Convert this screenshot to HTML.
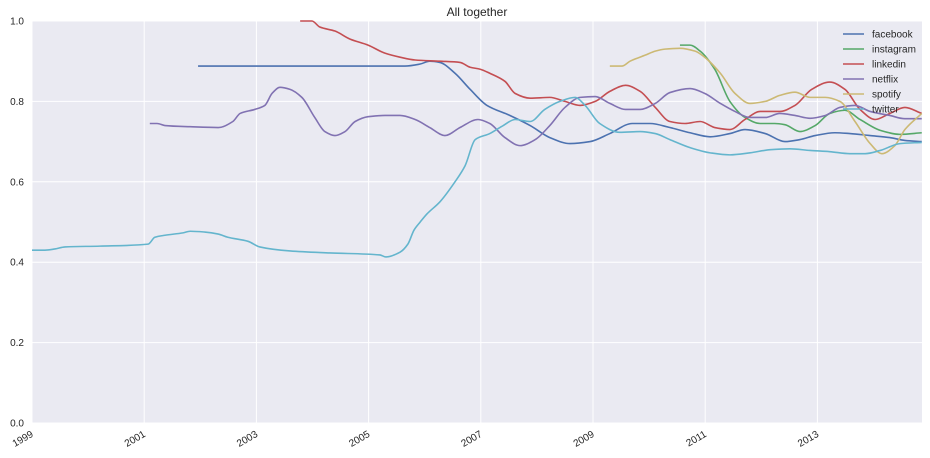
<!DOCTYPE html>
<html><head><meta charset="utf-8"><style>
body{margin:0;background:#fff;width:930px;height:458px;overflow:hidden}
svg{display:block;font-family:"Liberation Sans",sans-serif}
</style></head><body>
<svg id="chart" width="930" height="458"></svg>
<script>
const seriesNames=["facebook","instagram","linkedin","netflix","spotify","twitter"];
const seriesColors=["#4c72b0","#55a868","#c44e52","#8172b2","#ccb974","#64b5cd"];
const yTicks=[0,0.2,0.4,0.6,0.8,1.0];
const xTickYears=[1999,2001,2003,2005,2007,2009,2011,2013];
const facebookYears=[2001.96,2005.65,2005.92,2006.09,2006.27,2006.54,2006.81,2007.11,2007.52,2007.88,2008.23,2008.59,2008.95,2009.30,2009.70,2010.02,2010.37,2010.73,2011.09,2011.44,2011.71,2012.07,2012.42,2012.69,2012.96,2013.31,2013.58,2013.94,2014.29,2014.56,2014.86];
const facebookValues=[0.888,0.888,0.893,0.90,0.897,0.87,0.83,0.79,0.765,0.74,0.71,0.695,0.70,0.72,0.745,0.745,0.735,0.722,0.712,0.72,0.73,0.72,0.70,0.705,0.715,0.722,0.72,0.715,0.71,0.703,0.70];
const instagramYears=[2010.55,2010.73,2010.91,2011.17,2011.44,2011.71,2011.98,2012.24,2012.42,2012.69,2012.96,2013.22,2013.49,2013.76,2014.12,2014.47,2014.86];
const instagramValues=[0.94,0.94,0.925,0.88,0.80,0.76,0.745,0.745,0.742,0.725,0.74,0.77,0.778,0.755,0.728,0.718,0.722];
const linkedinYears=[2003.78,2003.99,2004.13,2004.40,2004.67,2004.99,2005.29,2005.56,2005.83,2006.27,2006.63,2006.81,2006.99,2007.16,2007.43,2007.61,2007.88,2008.23,2008.50,2008.77,2009.04,2009.30,2009.58,2009.84,2010.11,2010.37,2010.64,2010.91,2011.17,2011.44,2011.71,2011.98,2012.33,2012.60,2012.90,2013.22,2013.49,2013.76,2014.03,2014.29,2014.56,2014.86];
const linkedinValues=[1.0,1.0,0.985,0.975,0.955,0.94,0.92,0.91,0.903,0.90,0.897,0.885,0.88,0.87,0.85,0.82,0.808,0.81,0.80,0.79,0.80,0.825,0.84,0.825,0.785,0.75,0.745,0.75,0.735,0.73,0.755,0.775,0.775,0.79,0.83,0.848,0.83,0.78,0.755,0.77,0.785,0.77];
const netflixYears=[2001.10,2001.23,2001.37,2001.82,2002.32,2002.58,2002.71,2002.97,2003.15,2003.28,2003.42,2003.60,2003.81,2004.04,2004.22,2004.40,2004.58,2004.76,2004.99,2005.29,2005.56,2005.83,2006.09,2006.36,2006.63,2006.95,2007.16,2007.43,2007.70,2007.97,2008.23,2008.50,2008.77,2009.04,2009.30,2009.58,2009.84,2010.11,2010.37,2010.73,2010.99,2011.27,2011.53,2011.80,2012.07,2012.33,2012.60,2012.87,2013.14,2013.40,2013.67,2013.94,2014.29,2014.56,2014.86];
const netflixValues=[0.745,0.745,0.74,0.737,0.735,0.75,0.77,0.78,0.79,0.82,0.835,0.83,0.81,0.76,0.725,0.715,0.725,0.75,0.762,0.765,0.765,0.755,0.735,0.715,0.735,0.755,0.745,0.71,0.69,0.705,0.74,0.785,0.81,0.812,0.795,0.78,0.78,0.795,0.822,0.832,0.82,0.795,0.775,0.76,0.76,0.77,0.765,0.758,0.765,0.785,0.79,0.775,0.765,0.757,0.757];
const spotifyYears=[2009.30,2009.52,2009.66,2009.93,2010.11,2010.28,2010.55,2010.82,2010.99,2011.27,2011.53,2011.80,2012.07,2012.33,2012.60,2012.87,2013.14,2013.40,2013.67,2013.94,2014.15,2014.38,2014.56,2014.86];
const spotifyValues=[0.888,0.888,0.90,0.915,0.925,0.93,0.932,0.925,0.91,0.87,0.82,0.795,0.80,0.815,0.823,0.81,0.81,0.80,0.75,0.695,0.67,0.69,0.73,0.77];
const twitterYears=[1999.0,1999.23,1999.41,1999.59,2000.21,2001.07,2001.19,2001.37,2001.69,2001.82,2002.08,2002.32,2002.49,2002.85,2003.06,2003.60,2004.31,2005.20,2005.31,2005.56,2005.70,2005.81,2005.92,2006.04,2006.27,2006.54,2006.72,2006.90,2007.16,2007.40,2007.61,2007.88,2008.14,2008.41,2008.68,2008.86,2009.12,2009.48,2009.84,2010.11,2010.37,2010.73,2011.09,2011.44,2011.80,2012.16,2012.51,2012.87,2013.22,2013.58,2013.85,2014.12,2014.47,2014.86];
const twitterValues=[0.43,0.43,0.433,0.438,0.44,0.445,0.462,0.467,0.473,0.477,0.475,0.47,0.462,0.452,0.438,0.428,0.423,0.418,0.413,0.425,0.445,0.48,0.50,0.52,0.55,0.60,0.64,0.705,0.72,0.74,0.755,0.75,0.78,0.80,0.81,0.79,0.745,0.723,0.725,0.72,0.705,0.685,0.672,0.667,0.672,0.68,0.682,0.678,0.675,0.67,0.67,0.678,0.695,0.698];

const allYears=[facebookYears,instagramYears,linkedinYears,netflixYears,spotifyYears,twitterYears];
const allValues=[facebookValues,instagramValues,linkedinValues,netflixValues,spotifyValues,twitterValues];

const L=32,R=922,T=21,B=423;
const x0=1999,pxPerYear=56.1;
function xScale(y){return L+(y-x0)*pxPerYear;}
function yScale(v){return B-v*(B-T);}
const NS="http://www.w3.org/2000/svg";
const svg=document.getElementById('chart');
function mk(tag,attrs,parent){const e=document.createElementNS(NS,tag);for(const k in attrs)e.setAttribute(k,attrs[k]);(parent||svg).appendChild(e);return e;}

const bg=mk('rect',{x:L,y:T,width:R-L,height:B-T,fill:'#eaeaf2'});



yTicks.forEach(v=>{
  const g=mk('line',{x1:L,x2:R,y1:yScale(v),y2:yScale(v),stroke:'#fff','stroke-width':1});
  
  
  const t=mk('text',{x:24,y:yScale(v)+3.5,'text-anchor':'end','font-size':10,fill:'#262626'});
  t.textContent=v.toFixed(1);
  
  
});
xTickYears.forEach(yr=>{
  const x=xScale(yr);
  const g=mk('line',{x1:x,x2:x,y1:T,y2:B,stroke:'#fff','stroke-width':1});
  
  
  const t=mk('text',{x:x+2,y:B+13,'text-anchor':'end','font-size':10,fill:'#262626',transform:`rotate(-30 ${x+2} ${B+13})`});
  t.textContent=String(yr);
  
  
});

// monotone cubic (Fritsch-Carlson) to avoid overshoot
function smoothPath(pts){
  const n=pts.length;
  if(n<2)return '';
  const dx=[],s=[];
  for(let i=0;i<n-1;i++){dx[i]=pts[i+1][0]-pts[i][0];s[i]=(pts[i+1][1]-pts[i][1])/dx[i];}
  const m=[s[0]];
  for(let i=1;i<n-1;i++){
    if(s[i-1]*s[i]<=0)m[i]=0;
    else{const w1=2*dx[i]+dx[i-1],w2=dx[i]+2*dx[i-1];m[i]=(w1+w2)/(w1/s[i-1]+w2/s[i]);}
  }
  m[n-1]=s[n-2];
  let d=`M${pts[0][0]},${pts[0][1]}`;
  for(let i=0;i<n-1;i++){
    const h=dx[i]/3;
    d+=` C${pts[i][0]+h},${pts[i][1]+m[i]*h} ${pts[i+1][0]-h},${pts[i+1][1]-m[i+1]*h} ${pts[i+1][0]},${pts[i+1][1]}`;
  }
  return d;
}
allYears.forEach((ys,i)=>{
  const pts=ys.map((y,j)=>[xScale(y),yScale(allValues[i][j])]);
  const p=mk('path',{d:smoothPath(pts),fill:'none',stroke:seriesColors[i],'stroke-width':1.6,'stroke-linejoin':'round'});
  
  
});

seriesNames.forEach((n,i)=>{
  const y=34+i*15;
  const l=mk('line',{x1:843,x2:864,y1:y,y2:y,stroke:seriesColors[i],'stroke-width':1.6});
  
  
  const t=mk('text',{x:872,y:y+3.5,'font-size':10,fill:'#262626'});
  t.textContent=n;
  
  
});

const title=mk('text',{x:477,y:16,'text-anchor':'middle','font-size':12,fill:'#262626'});
title.textContent='All together';


</script>
</body></html>
